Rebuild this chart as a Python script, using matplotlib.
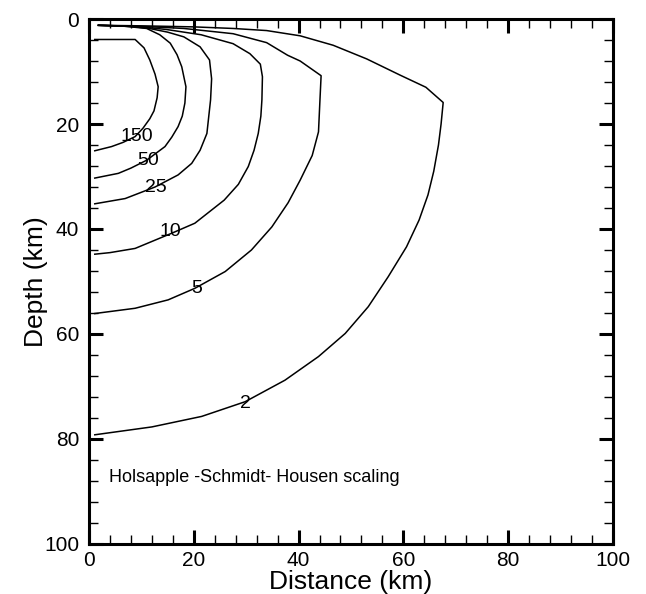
import matplotlib
matplotlib.use('Agg')
from matplotlib import pyplot as plt
from matplotlib.ticker import MultipleLocator

plt.rcParams['font.family'] = ['Liberation Sans', 'DejaVu Sans']

# Contour levels and their traced points (distance km, depth km)
levels = ['150', '50', '25', '10', '5', '2']

x_150 = [1.1, 8.8, 10.5, 11.6, 12.6, 13.2, 13.0, 12.4, 11.6, 10.3, 8.8, 6.5, 4.3, 1.1]
d_150 = [3.9, 3.9, 5.5, 7.8, 10.5, 12.9, 15.0, 17.5, 19.0, 20.8, 22.4, 23.5, 24.3, 25.1]

x_50 = [1.8, 6.0, 11.0, 13.5, 15.5, 16.8, 17.7, 18.5, 18.3, 17.8, 17.0, 15.8, 14.5, 11.0, 8.0, 5.6, 1.1]
d_50 = [1.2, 1.3, 1.8, 3.0, 4.6, 6.8, 9.1, 12.9, 16.0, 18.5, 20.5, 22.5, 24.3, 26.9, 28.4, 29.4, 30.3]

x_25 = [1.8, 8.0, 11.5, 15.0, 18.1, 21.2, 23.0, 23.4, 23.2, 22.5, 21.2, 19.6, 17.0, 12.6, 6.9, 1.1]
d_25 = [1.2, 1.4, 1.8, 2.5, 3.4, 5.3, 7.8, 11.4, 15.4, 21.8, 25.0, 27.5, 29.7, 32.0, 34.2, 35.2]

x_10 = [1.8, 10.0, 14.8, 21.4, 27.5, 30.7, 32.7, 33.1, 33.0, 32.8, 32.3, 31.5, 30.4, 28.5, 25.8,
        20.2, 15.8, 8.8, 4.0, 1.1]
d_10 = [1.2, 1.5, 2.0, 3.0, 4.7, 6.6, 8.6, 11.0, 15.4, 18.5, 21.8, 25.0, 28.1, 31.5, 34.5,
        38.9, 40.8, 43.7, 44.5, 44.8]

x_5 = [1.8, 12.0, 18.1, 24.7, 27.5, 33.9, 37.9, 40.3, 44.3, 44.1, 43.8, 42.6, 40.3, 38.0, 34.9,
       31.0, 26.0, 20.2, 15.1, 8.8, 1.1]
d_5 = [1.2, 1.5, 1.8, 2.5, 2.8, 4.5, 6.9, 8.0, 10.8, 15.0, 21.5, 26.0, 30.7, 35.0, 39.6,
       44.0, 48.1, 51.3, 53.5, 55.1, 56.1]

x_2 = [1.8, 10.0, 20.0, 27.5, 33.9, 40.3, 46.6, 53.0, 59.4, 64.3, 67.6, 67.2, 66.7, 65.8, 64.7,
       63.0, 60.6, 57.1, 53.3, 48.9, 43.8, 37.4, 29.8, 21.5, 12.0, 1.1]
d_2 = [1.2, 1.3, 1.5, 1.8, 2.2, 3.2, 5.0, 7.6, 10.7, 13.0, 15.9, 20.0, 24.0, 29.0, 33.5,
       38.3, 43.4, 49.1, 54.8, 59.9, 64.3, 68.8, 72.9, 75.7, 77.7, 79.2]

# Where the level labels sit
label_x = [9.1, 11.3, 12.7, 15.6, 20.6, 29.8]
label_d = [22.4, 26.9, 32.1, 40.5, 51.3, 73.3]

contours = [(x_150, d_150), (x_50, d_50), (x_25, d_25),
            (x_10, d_10), (x_5, d_5), (x_2, d_2)]

fig = plt.figure(figsize=(6.46, 5.94), dpi=100)
ax = fig.add_axes([0.1378, 0.0842, 0.811, 0.8838])

# Draw the contour lines
for (xs, ds) in contours:
    ax.plot(xs, ds, color='black', linewidth=1.1, solid_joinstyle='round')

# Level labels
for lev, lx, ld in zip(levels, label_x, label_d):
    ax.text(lx, ld, lev, fontsize=14, ha='center', va='center')

ax.text(3.8, 87.4, 'Holsapple -Schmidt- Housen scaling', fontsize=13, va='center')

# Axes limits, depth grows downward
ax.set_xlim(0, 100)
ax.set_ylim(100, 0)
ax.xaxis.set_major_locator(MultipleLocator(20))
ax.yaxis.set_major_locator(MultipleLocator(20))
ax.xaxis.set_minor_locator(MultipleLocator(4))
ax.yaxis.set_minor_locator(MultipleLocator(4))

ax.tick_params(which='both', direction='in', top=True, right=True)
ax.tick_params(which='major', length=10, width=2.2, labelsize=15)
ax.tick_params(which='minor', length=6.5, width=1.0)
ax.tick_params(axis='x', which='major', pad=5)
ax.tick_params(axis='y', which='major', pad=7)

for sp in ax.spines.values():
    sp.set_linewidth(2.2)

ax.set_xlabel('Distance (km)', fontsize=19, labelpad=0)
ax.set_ylabel('Depth (km)', fontsize=19, labelpad=-3)

fig.savefig('out.png', dpi=100)
